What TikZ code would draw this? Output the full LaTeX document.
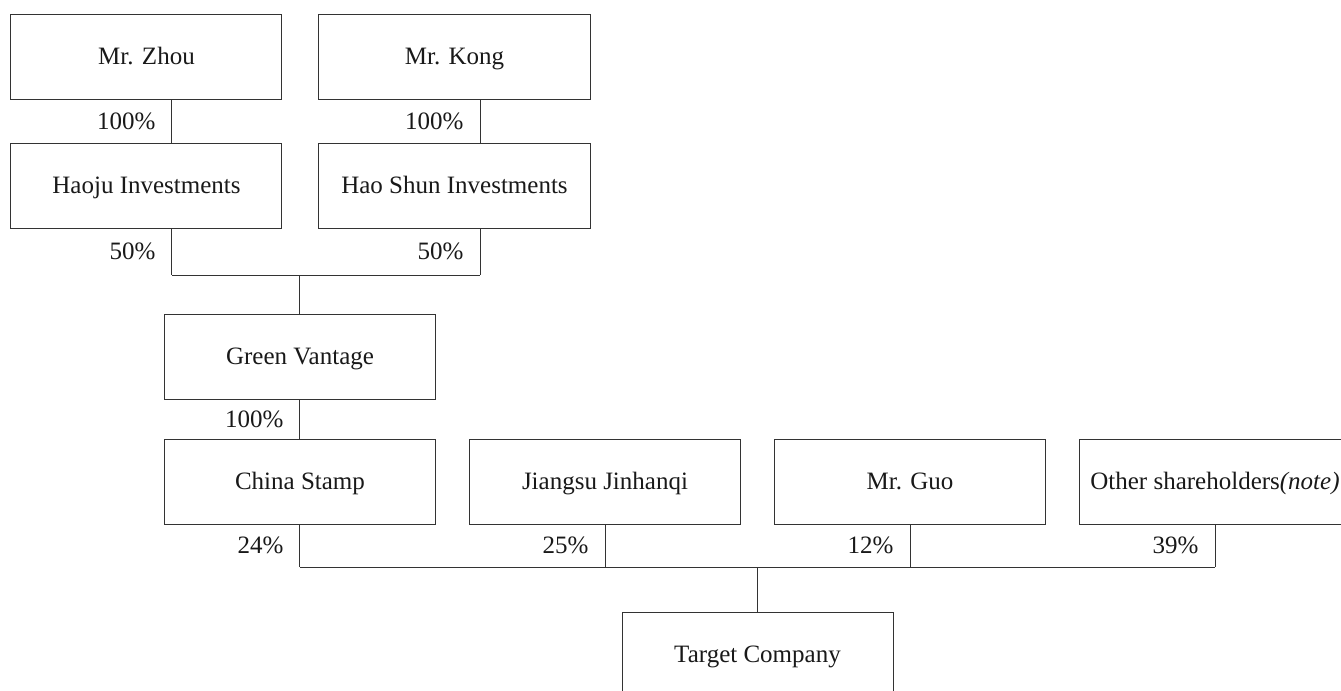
\documentclass[tikz,border=0pt]{standalone}
\usepackage{fontspec}
\setmainfont{Liberation Serif}
\usetikzlibrary{positioning}
\usetikzlibrary{calc}
\tikzset{
  firm/.style={draw=black!80, line width=0.5pt, minimum width=135.5pt, minimum height=42.5pt,
    inner xsep=0pt, text height=1.9ex, text depth=0.25ex, text=black!90,
    font=\fontsize{12.5}{15}\selectfont},
  share/.style={left, inner xsep=8pt, text height=1.9ex, text depth=0.25ex, text=black!90,
    font=\fontsize{12.5}{15}\selectfont},
  link/.style={draw=black!80, line width=0.5pt}
}

\begin{document}
\begin{tikzpicture}
      \useasboundingbox (-73.25pt,28.5pt) rectangle (597.25pt,-317pt);
      % owners
      \node[firm] (zhou) at (0,0) {Mr. Zhou};
      \node[firm, right=18pt of zhou] (kong) {Mr. Kong};
      \node[firm, below=21.5pt of zhou] (haoju) {Haoju Investments};
      \node[firm, right=18pt of haoju] (haoshun) {Hao Shun Investments};
      \node[firm, below=42.5pt of haoju, xshift=76.75pt] (green) {Green Vantage};
      % shareholders of the target
      \node[firm, below=19.5pt of green] (stamp) {China Stamp};
      \node[firm, right=16.5pt of stamp] (jinhanqi) {Jiangsu Jinhanqi};
      \node[firm, right=16.5pt of jinhanqi] (guo) {Mr. Guo};
      \node[firm, right=16.5pt of guo] (others) {Other shareholders\textit{(note)}};
      \coordinate (mid) at ($(jinhanqi.south)!0.5!(guo.south)$);
      \node[firm, below=43.5pt of mid] (target) {Target Company};
      \coordinate (topbus) at ([yshift=-23pt]haoju.south);
      \coordinate (botbus) at ([yshift=-21pt]mid);

      \draw[link] ([xshift=12.75pt]zhou.south) -- node[share] {100\%} ([xshift=12.75pt]haoju.north);
      \draw[link] ([xshift=12.75pt]kong.south) -- node[share] {100\%} ([xshift=12.75pt]haoshun.north);
      \draw[link] ([xshift=12.75pt]haoju.south) -- node[share] {50\%} ([xshift=12.75pt]haoju.south |- topbus);
      \draw[link] ([xshift=12.75pt]haoshun.south) -- node[share] {50\%} ([xshift=12.75pt]haoshun.south |- topbus);
      \draw[link] ([xshift=12.75pt]haoju.south |- topbus) -- ([xshift=12.75pt]haoshun.south |- topbus);
      \draw[link] (green.north |- topbus) -- (green.north);
      \draw[link] (green.south) -- node[share] {100\%} (stamp.north);

      \draw[link] (stamp.south) -- node[share] {24\%} (stamp.south |- botbus);
      \draw[link] (jinhanqi.south) -- node[share] {25\%} (jinhanqi.south |- botbus);
      \draw[link] (guo.south) -- node[share] {12\%} (guo.south |- botbus);
      \draw[link] (others.south) -- node[share] {39\%} (others.south |- botbus);
      \draw[link] (stamp.south |- botbus) -- (others.south |- botbus);
      \draw[link] (botbus) -- (target.north);
\end{tikzpicture}
\end{document}
